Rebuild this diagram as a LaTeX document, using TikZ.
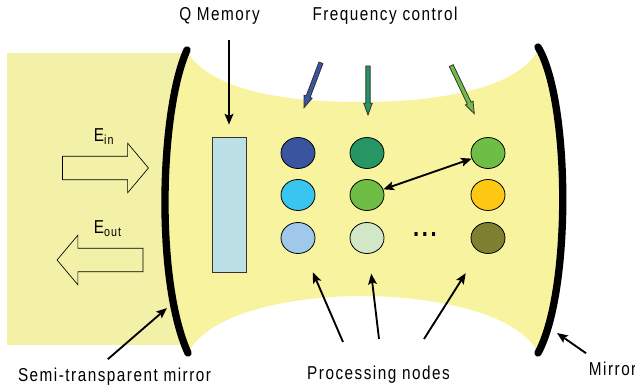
\documentclass[tikz,border=0pt]{standalone}
\usepackage{fontspec}
\setmainfont{Liberation Sans}[FakeStretch=0.82,LetterSpace=8]
\usetikzlibrary{shapes.geometric,shapes.arrows,arrows.meta}

\definecolor{outside}{RGB}{243,241,167}
\definecolor{cavity}{RGB}{248,243,158}
\definecolor{memblue}{RGB}{188,224,229}
\definecolor{darkblue}{RGB}{59,84,160}
\definecolor{skyblue}{RGB}{56,198,240}
\definecolor{paleblue}{RGB}{160,200,235}
\definecolor{teal}{RGB}{40,150,100}
\definecolor{leafgreen}{RGB}{110,190,70}
\definecolor{palegreen}{RGB}{210,230,200}
\definecolor{amber}{RGB}{255,200,20}
\definecolor{olive}{RGB}{128,128,50}

\begin{document}
\begin{tikzpicture}[x=0.75pt,y=-0.75pt,
	lbl/.style={font=\fontsize{14pt}{16pt}\selectfont, inner sep=2pt, anchor=base},
	qnode/.style={ellipse, draw=black, line width=0.6pt, minimum width=25.5pt, minimum height=23.25pt, inner sep=0pt},
	pointer/.style={line width=1.4pt, >={Stealth[length=8pt,width=6.5pt,inset=1.5pt]}},
	fatarrow/.style={single arrow, draw=black, line width=0.5pt, fill=outside, minimum height=64.5pt, inner xsep=0pt, inner ysep=8.6pt, single arrow head extend=9.75pt, single arrow tip angle=100},
	thinarrow/.style={single arrow, draw=black!80, line width=0.6pt, inner xsep=0pt, inner ysep=1.3pt, single arrow head extend=1.6pt, single arrow tip angle=40},
	mirror/.style={line width=5.5pt, line cap=round}]

	\useasboundingbox (0,0) rectangle (635,388);

	% light coming in from the left
	\fill[outside] (7,53) rectangle (185,345);

	% cavity between the mirrors
	\fill[cavity] (187,52) .. controls (215,95) and (300,102) .. (360,102)
		.. controls (450,102) and (520,85) .. (538,50)
		.. controls (570,100) and (572,290) .. (538,353)
		.. controls (520,315) and (440,296) .. (360,296)
		.. controls (300,296) and (210,310) .. (188,353)
		.. controls (155,280) and (160,110) .. (187,52) -- cycle;

	\draw[mirror] (187,50) .. controls (160,110) and (155,280) .. (188,353);
	\draw[mirror] (538,47) .. controls (570,100) and (572,290) .. (538,353);
	\coordinate (lmir) at (167,308);
	\coordinate (rmir) at (557,333);

	\node[fatarrow] (ein) at (100.5,168) {};
	\node[fatarrow, rotate=180] (eout) at (105,260) {};
	\node[lbl, anchor=base west] (einlbl) at (91,142) {E\textsubscript{in}};
	\node[lbl, anchor=base west] (eoutlbl) at (91,234) {E\textsubscript{out}};

	% memory
	\node[draw=black!80, line width=0.6pt, fill=memblue, minimum width=25.5pt, minimum height=101.25pt, inner sep=0pt] (qmem) at (229,204.5) {};

	% processing nodes
	\node[qnode, fill=darkblue] (n11) at (298,153) {};
	\node[qnode, fill=skyblue] (n12) at (298,195) {};
	\node[qnode, fill=paleblue] (n13) at (298,238) {};
	\node[qnode, fill=teal] (n21) at (367,153) {};
	\node[qnode, fill=leafgreen] (n22) at (367,195) {};
	\node[qnode, fill=palegreen] (n23) at (367,238) {};
	\node[qnode, fill=leafgreen] (n31) at (488,153) {};
	\node[qnode, fill=amber] (n32) at (488,195) {};
	\node[qnode, fill=olive] (n33) at (488,238) {};
	\node[font=\fontsize{20pt}{22pt}\bfseries\selectfont, inner sep=0pt] (dots) at (425,235) {.\hspace{2pt}.\hspace{2pt}.};

	\draw[pointer,<->] (n22) -- (n31);

	% frequency control
	\node[thinarrow, fill=darkblue, minimum height=36pt, rotate=-110.7] (fcA) at (313.5,82.5) {};
	\node[thinarrow, fill=teal, minimum height=36.75pt, rotate=-90] (fcB) at (368,87.5) {};
	\node[thinarrow, fill=leafgreen, minimum height=40pt, rotate=-64.4] (fcC) at (461.5,87) {};

	% labels
	\node[lbl] (qlbl) at (219.5,21) {Q Memory};
	\node[lbl] (flbl) at (385,21) {Frequency control};
	\node[lbl] (slbl) at (114.5,381) {Semi-transparent mirror};
	\node[lbl] (plbl) at (378.5,379) {Processing nodes};
	\node[lbl, anchor=base west] (mlbl) at (586,375) {Mirror};

	\draw[pointer,->, shorten <=9pt, shorten >=9pt] (qmem.north |- qlbl.south) -- (qmem.north);
	\draw[pointer,->] ([xshift=-5pt,yshift=4pt]slbl.north) -- (lmir);
	\draw[pointer,->] ([yshift=4pt]mlbl.north west) -- (rmir);

	\coordinate (pA) at (343,342);
	\coordinate (pB) at (379,339);
	\coordinate (pC) at (424,339);
	\draw[pointer,->, shorten >=16pt] (pA) -- (n13);
	\draw[pointer,->, shorten >=15pt] (pB) -- (n23);
	\draw[pointer,->, shorten >=19pt] (pC) -- (n33);
\end{tikzpicture}
\end{document}
